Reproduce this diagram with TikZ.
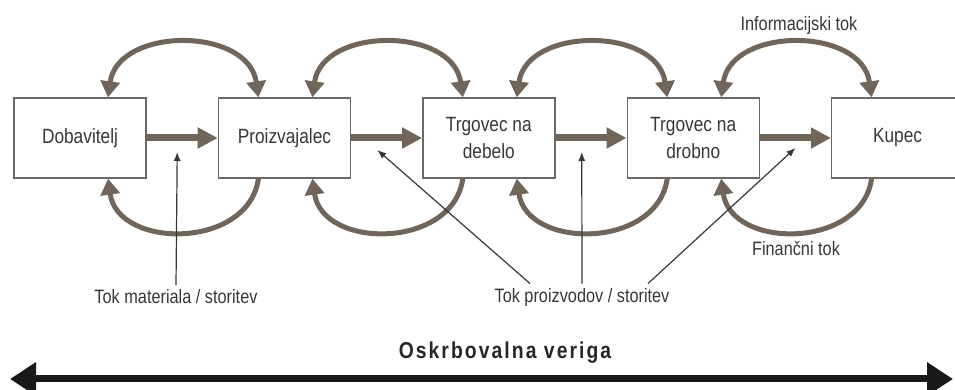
\documentclass[tikz,border=0pt]{standalone}
\usepackage{fontspec}
\setmainfont{Liberation Sans}[FakeStretch=0.84]
\usepackage{xcolor}
\usetikzlibrary{
    arrows.meta,      % Triangle / Latex tips
    positioning,      % right=of
    calc              % points between the boxes
}
\definecolor{flowbrown}{RGB}{112,101,88}
\definecolor{boxgray}{RGB}{105,105,105}
\definecolor{txtgray}{RGB}{55,55,55}

\begin{document}
\begin{tikzpicture}[
    node distance=35.5pt,
    party/.style={draw=boxgray, line width=0.7pt, minimum width=66pt, minimum height=40pt, align=center, text=txtgray, font=\fontsize{10.3}{13.5}\selectfont, inner sep=2pt},
    goodsarrow/.style={-{Triangle[length=10pt, width=10pt]}, line width=3.5pt, color=flowbrown},
    infoarrow/.style={{Triangle[length=8pt, width=9.5pt]}-{Triangle[length=8pt, width=9.5pt]}, line width=2.5pt, color=flowbrown},
    cashbow/.style={-{Triangle[length=8pt, width=9.5pt]}, line width=2.5pt, color=flowbrown},
    pointer/.style={-{Latex[length=4.5pt, width=3.5pt]}, line width=0.6pt, color=txtgray},
    note/.style={text=txtgray, font=\fontsize{9.7}{11}\selectfont, inner sep=2pt},
    chainarrow/.style={{Triangle[length=13pt, width=16pt]}-{Triangle[length=13pt, width=16pt]}, line width=3.5pt, color=black!90},
    chainlbl/.style={text=black!85, font=\bfseries\fontsize{11.5}{13}\selectfont\addfontfeature{LetterSpace=9}, inner sep=1pt},
  ]
    \useasboundingbox (0,0) rectangle (477.5pt,-195pt);
    \clip (0,0) rectangle (477.5pt,-195pt);

    % Members of the chain
    \node[party] (dob) at (40pt,-69pt) {Dobavitelj};
    \node[party, right=of dob] (pro) {Proizvajalec};
    \node[party, right=of pro] (veli) {Trgovec na\\debelo};
    \node[party, right=of veli] (drob) {Trgovec na\\drobno};
    \node[party, right=of drob] (kup) {Kupec};

    % Flow of goods
    \draw[goodsarrow] (dob) -- (pro);
    \draw[goodsarrow] (pro) -- (veli);
    \draw[goodsarrow] (veli) -- (drob);
    \draw[goodsarrow] (drob) -- (kup);

    % Information (both ways)
    \draw[infoarrow] ([xshift=14pt]dob.north) to[out=82, in=98, looseness=1.22] ([xshift=-13pt]pro.north);
    \draw[infoarrow] ([xshift=14pt]pro.north) to[out=82, in=98, looseness=1.22] ([xshift=-13pt]veli.north);
    \draw[infoarrow] ([xshift=14pt]veli.north) to[out=82, in=98, looseness=1.22] ([xshift=-13pt]drob.north);
    \draw[infoarrow] ([xshift=14pt]drob.north) to[out=82, in=98, looseness=1.22] ([xshift=-13pt]kup.north);

    % Money (upstream)
    \draw[cashbow] ([xshift=-13pt]pro.south) to[out=-98, in=-82, looseness=1.22] ([xshift=14pt]dob.south);
    \draw[cashbow] ([xshift=-13pt]veli.south) to[out=-98, in=-82, looseness=1.22] ([xshift=14pt]pro.south);
    \draw[cashbow] ([xshift=-13pt]drob.south) to[out=-98, in=-82, looseness=1.22] ([xshift=14pt]veli.south);
    \draw[cashbow] ([xshift=-13pt]kup.south) to[out=-98, in=-82, looseness=1.22] ([xshift=14pt]drob.south);

    % Labels
    \node[note] (infolbl) at (399.5pt,-12.5pt) {Informacijski tok};
    \node[note] (finlbl) at (398pt,-124.5pt) {Finančni tok};
    \node[note] (matlbl) at (88pt,-148.5pt) {Tok materiala / storitev};
    \node[note] (prodlbl) at (291pt,-148.5pt) {Tok proizvodov / storitev};

    % Points under the goods arrows
    \coordinate (mat) at ($(dob.east)!0.43!(pro.west)+(0,-7pt)$);
    \coordinate (prod1) at ($(pro.east)!0.37!(veli.west)+(0,-6pt)$);
    \coordinate (prod2) at ($(veli.east)!0.37!(drob.west)+(0,-7pt)$);
    \coordinate (prod3) at ($(drob.east)!0.5!(kup.west)+(0,-5pt)$);

    \draw[pointer] (matlbl.north) -- (mat);
    \draw[pointer] ([xshift=-26pt]prodlbl.north) -- (prod1);
    \draw[pointer] (prodlbl.north) -- (prod2);
    \draw[pointer] ([xshift=33pt]prodlbl.north) -- (prod3);

    % Supply chain
    \coordinate (chainw) at (5pt,-189.5pt);
    \coordinate (chaine) at (476.5pt,-189.5pt);
    \draw[chainarrow] (chainw) -- (chaine);
    \node[chainlbl] (chain) at (252.5pt,-176.5pt) {Oskrbovalna veriga};
  \end{tikzpicture}
\end{document}
